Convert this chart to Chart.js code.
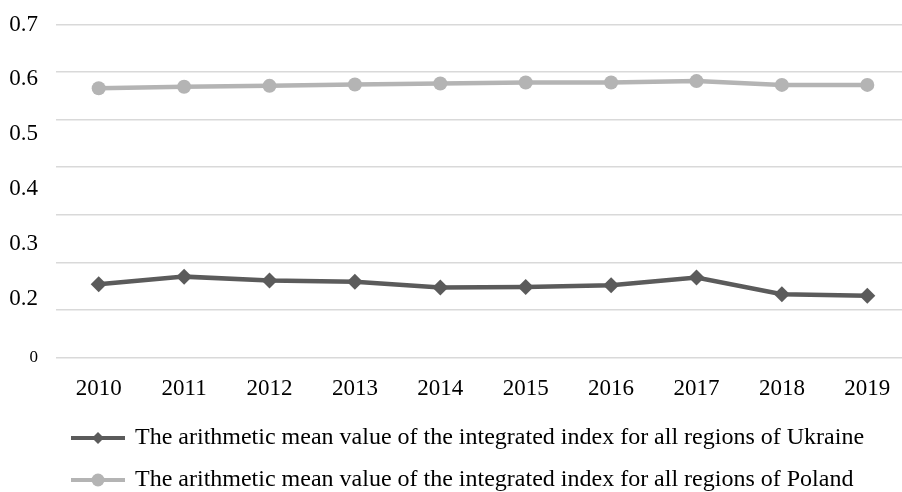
<!DOCTYPE html>
<html>
<head>
<meta charset="utf-8">
<script src="https://cdn.jsdelivr.net/npm/chart.js@4/dist/chart.umd.min.js"></script>
<style>
  html, body { margin: 0; padding: 0; background: #fff; overflow: hidden; }
  #wrap { width: 910px; height: 492px; position: relative; }
</style>
</head>
<body>
<div id="wrap"><canvas id="c"></canvas></div>
<script>
const years = ['2010','2011','2012','2013','2014','2015','2016','2017','2018','2019'];
const ukraine = [0.154, 0.170, 0.162, 0.159, 0.147, 0.148, 0.152, 0.168, 0.133, 0.130];
const poland  = [0.566, 0.569, 0.571, 0.574, 0.576, 0.578, 0.578, 0.581, 0.573, 0.573];
const ukraineLabel = 'The arithmetic mean value of the integrated index for all regions of Ukraine';
const polandLabel  = 'The arithmetic mean value of the integrated index for all regions of Poland';
const gridValues = [0, 0.1, 0.2, 0.3, 0.4, 0.5, 0.6, 0.7];
const yTickValues = [0.2, 0.3, 0.4, 0.5, 0.6, 0.7];
const yZeroLabel = '0';
const Y2_MIN = 0.0934;
const Y2_MAX = 0.7;

const UKR_COLOR = '#5b5b5b';
const POL_COLOR = '#b4b4b4';
const SERIF = '"Liberation Serif", "Times New Roman", serif';

function legendIcon(color, style) {
  const cv = document.createElement('canvas');
  cv.width = 54; cv.height = 18;
  const g = cv.getContext('2d');
  g.strokeStyle = color; g.fillStyle = color; g.lineWidth = 4;
  g.beginPath(); g.moveTo(0, 9); g.lineTo(54, 9); g.stroke();
  g.beginPath();
  if (style === 'diamond') {
    g.moveTo(27, 3); g.lineTo(33, 9); g.lineTo(27, 15); g.lineTo(21, 9); g.closePath();
  } else {
    g.arc(27, 9, 6.5, 0, Math.PI * 2);
  }
  g.fill();
  return cv;
}
const icons = [legendIcon(UKR_COLOR, 'diamond'), legendIcon(POL_COLOR, 'circle')];

const shiftLegend = {
  id: 'shiftLegend',
  afterLayout(chart) {
    chart.legend.left += 47;
  }
};

new Chart(document.getElementById('c'), {
  type: 'line',
  data: {
    labels: years,
    datasets: [
      {
        label: ukraineLabel, data: ukraine,
        borderColor: UKR_COLOR, backgroundColor: UKR_COLOR,
        borderWidth: 4.5, pointStyle: 'rectRot', pointRadius: 8,
        pointBorderWidth: 0, tension: 0, yAxisID: 'y'
      },
      {
        label: polandLabel, data: poland,
        borderColor: POL_COLOR, backgroundColor: POL_COLOR,
        borderWidth: 4.5, pointStyle: 'circle', pointRadius: 7,
        pointBorderWidth: 0, tension: 0, yAxisID: 'y'
      }
    ]
  },
  plugins: [shiftLegend],
  options: {
    responsive: true,
    maintainAspectRatio: false,
    animation: false,
    layout: { autoPadding: false, padding: { left: 8, right: 0, top: 24.5, bottom: -10 } },
    plugins: {
      tooltip: { enabled: false },
      legend: {
        position: 'bottom',
        align: 'start',
        labels: {
          usePointStyle: true,
          pointStyleWidth: 50,
          padding: 18,
          color: '#000',
          font: { family: SERIF, size: 24 },
          generateLabels(chart) {
            return chart.data.datasets.map((ds, i) => ({
              text: ds.label, pointStyle: icons[i], fillStyle: ds.borderColor,
              strokeStyle: ds.borderColor, lineWidth: 0, datasetIndex: i, hidden: false
            }));
          }
        }
      }
    },
    scales: {
      x: {
        type: 'category',
        offset: true,
        grid: { display: false, drawTicks: false },
        border: { display: false },
        ticks: { color: '#000', padding: 18, font: { family: SERIF, size: 23 }, maxRotation: 0 },
        afterFit(s) { s.height = 50.5; }
      },
      y: {
        position: 'left',
        weight: 0,
        min: 0, max: 0.7,
        grid: { color: '#d9d9d9', lineWidth: 1.5, drawTicks: false },
        border: { display: false },
        ticks: { display: false },
        afterBuildTicks(s) { s.ticks = gridValues.map(v => ({ value: v })); },
        afterFit(s) { s.width = 18; }
      },
      y2: {
        position: 'left',
        weight: 1,
        min: Y2_MIN, max: Y2_MAX,
        grid: { display: false, drawTicks: false },
        border: { display: false },
        ticks: {
          color: '#000',
          padding: 0,
          font: ctx => (ctx.tick && ctx.tick.value === Y2_MIN)
            ? { family: SERIF, size: 17 }
            : { family: SERIF, size: 23 },
          callback: (v) => v === Y2_MIN ? yZeroLabel : v.toFixed(1)
        },
        afterBuildTicks(s) {
          s.ticks = [{ value: Y2_MIN }].concat(yTickValues.map(v => ({ value: v })));
        },
        afterFit(s) { s.width = 30; }
      }
    }
  }
});
</script>
</body>
</html>
